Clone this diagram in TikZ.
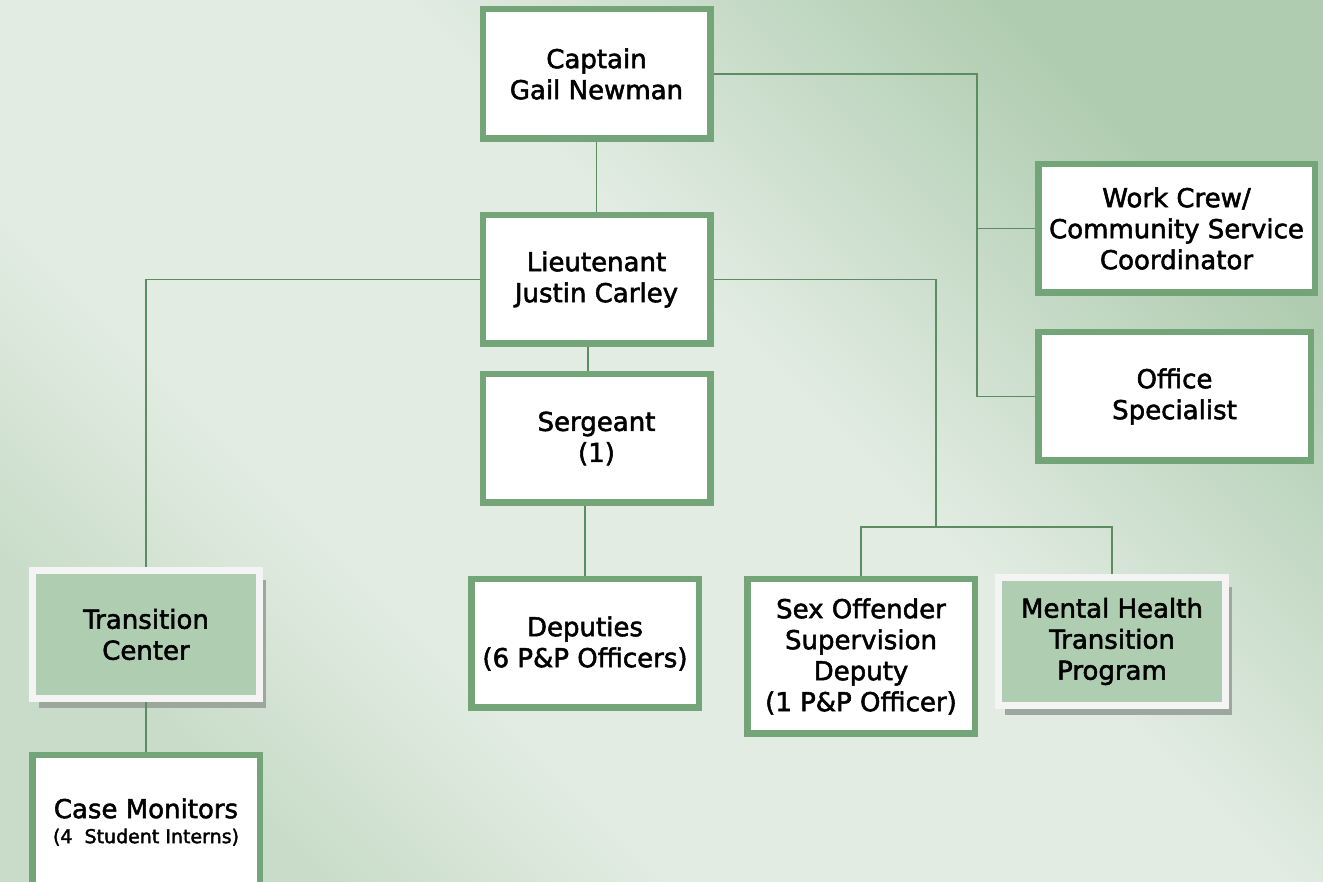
\documentclass[tikz,border=0pt]{standalone}
\usepackage{fontspec}
\setmainfont{DejaVu Sans}[FakeBold=2]
\usetikzlibrary{shadows}
\definecolor{boxgreen}{HTML}{74A579}
\definecolor{linkgreen}{HTML}{5E8C62}
\definecolor{panelgreen}{HTML}{AFCDB0}
\definecolor{panelrim}{HTML}{F4F4F4}
\definecolor{rimshadow}{HTML}{9DA79D}
\definecolor{bgmid}{HTML}{E2ECE2}
\definecolor{bgtop}{HTML}{AFCCB0}
\definecolor{bgbottom}{HTML}{C9DCC9}
\pgfdeclareverticalshading{bgband}{100bp}{color(0bp)=(bgbottom); color(25bp)=(bgbottom);
  color(36bp)=(bgmid); color(56bp)=(bgmid); color(75bp)=(bgtop); color(100bp)=(bgtop)}

\begin{document}
\begin{tikzpicture}[x=1pt, y=1pt,
    rank/.style = {draw=boxgreen, line width=6.5pt, fill=white, align=center, inner sep=0pt,
      minimum width=227.5pt, minimum height=128.5pt, font=\fontsize{26}{31}\selectfont},
    unit/.style = {rank, draw=panelrim, line width=7pt, fill=panelgreen,
      minimum width=227pt, minimum height=128pt,
      drop shadow={shadow xshift=6.5pt, shadow yshift=-9.5pt, fill=rimshadow, opacity=1}},
    link/.style = {draw=linkgreen, line width=1.6pt}]
        % background
        \useasboundingbox (0,0) rectangle (1323,882);
        \clip (0,0) rectangle (1323,882);
        \shade[shading=bgband, shading angle=-45] (0,0) rectangle (1323,882);

        \node[rank, minimum height=129.5pt] (capt) at (596.5,808) {Captain\\Gail Newman};
        \node[rank, node distance=205.5pt, below of=capt] (lieu) {Lieutenant\\Justin Carley};
        \node[rank, node distance=159pt, below of=lieu] (serg) {Sergeant\\(1)};
        \node[rank] (dep) at (585,238.5) {Deputies\\(6 P\&P Officers)};
        \node[rank, minimum height=154.5pt] (sex) at (861,225.5)
            {Sex Offender\\Supervision\\Deputy\\(1 P\&P Officer)};
        \node[unit] (mh) at (1112,240.5) {Mental Health\\Transition\\Program};
        \node[unit] (tc) at (146,247.5) {Transition\\Center};
        \node[rank, minimum height=133.5pt, node distance=187.5pt, below of=tc] (cm)
            {Case Monitors\\[-6pt]{\fontsize{19}{25}\selectfont (4~~Student Interns)}};
        \node[rank, minimum width=276.5pt] (work) at (1176.5,653.5)
            {Work Crew/\\Community Service\\Coordinator};
        \node[rank, minimum width=272.5pt] (off) at (1174.5,485.5) {Office\\Specialist};

        \coordinate (rbus) at (977,808);
        \coordinate (lbus) at (936,355);
        \draw[link] (capt.south) -- (lieu.north);
        \draw[link] (capt.east) -- (rbus) |- (off.west);
        \draw[link] (rbus |- work.west) -- (work.west);
        \draw[link] ([xshift=-8.5pt]lieu.south) -- ([xshift=-8.5pt]serg.north);
        \draw[link] (serg.south -| dep.north) -- (dep.north);
        \draw[link] (lieu.west) -| (tc.north);
        \draw[link] (lieu.east) -| (lbus);
        \draw[link] (sex.north) |- (lbus) -| (mh.north);
        \draw[link] (tc.south) -- (cm.north);
\end{tikzpicture}
\end{document}
